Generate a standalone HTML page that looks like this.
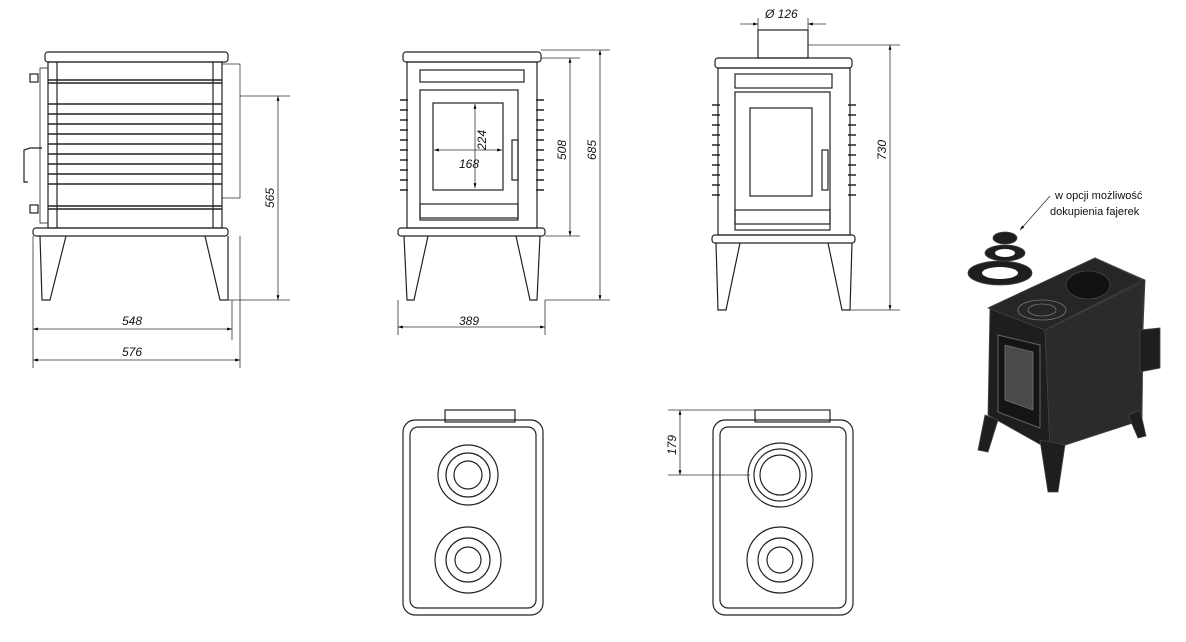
<!DOCTYPE html>
<html><head><meta charset="utf-8"><style>
html,body{margin:0;padding:0;background:#fff;}
svg{display:block;font-family:"Liberation Sans",sans-serif;}
</style></head><body>
<svg width="1186" height="642" viewBox="0 0 1186 642" xmlns="http://www.w3.org/2000/svg">
<defs><marker id="a" viewBox="0 0 10 10" refX="10" refY="5" markerWidth="8" markerHeight="6" orient="auto-start-reverse"><path d="M0,2 L10,5 L0,8z" fill="#000"/></marker></defs>
<g fill="none" stroke="#222" stroke-width="1.2">
<rect x="45" y="52" width="183" height="10" rx="3"/>
<rect x="48" y="62" width="174" height="166"/>
<line x1="57" y1="62" x2="57" y2="228"/><line x1="213" y1="62" x2="213" y2="228"/>
<rect x="222" y="64" width="18" height="134" stroke-width="0.7"/>
<g stroke-width="1.6">
<line x1="48" y1="80" x2="222" y2="80"/><line x1="48" y1="83" x2="222" y2="83"/>
<line x1="48" y1="104" x2="222" y2="104"/><line x1="48" y1="114" x2="222" y2="114"/>
<line x1="48" y1="124" x2="222" y2="124"/><line x1="48" y1="134" x2="222" y2="134"/>
<line x1="48" y1="144" x2="222" y2="144"/><line x1="48" y1="154" x2="222" y2="154"/>
<line x1="48" y1="164" x2="222" y2="164"/><line x1="48" y1="174" x2="222" y2="174"/>
<line x1="48" y1="184" x2="222" y2="184"/><line x1="48" y1="206" x2="222" y2="206"/><line x1="48" y1="209" x2="222" y2="209"/>
</g>
<rect x="40" y="68" width="8" height="155" stroke-width="0.8"/>
<rect x="30" y="74" width="8" height="8"/><rect x="30" y="205" width="8" height="8"/>
<path d="M42,148 L30,148 L24,150 L24,182 L28,182"/>
<rect x="33" y="228" width="195" height="8" rx="3"/>
<path d="M40,236 L42,300 L50,300 L66,236"/><path d="M205,236 L220,300 L228,300 L228,236"/>
<rect x="403" y="52" width="138" height="10" rx="3"/>
<rect x="407" y="62" width="130" height="166"/>
<rect x="420" y="70" width="104" height="12"/>
<rect x="420" y="90" width="98" height="130"/>
<rect x="433" y="103" width="70" height="87"/>
<rect x="420" y="204" width="98" height="14"/>
<g stroke-width="1.5">
<path d="M400,100h8M400,110h8M400,120h8M400,130h8M400,140h8M400,150h8M400,160h8M400,170h8M400,180h8M400,190h8"/>
<path d="M536,100h8M536,110h8M536,120h8M536,130h8M536,140h8M536,150h8M536,160h8M536,170h8M536,180h8M536,190h8"/>
</g>
<rect x="512" y="140" width="6" height="40"/>
<rect x="398" y="228" width="147" height="8" rx="3"/>
<path d="M404,236 L407,300 L414,300 L428,236"/><path d="M516,236 L530,300 L537,300 L540,236"/>
<rect x="758" y="30" width="50" height="28"/>
<rect x="715" y="58" width="137" height="10" rx="3"/>
<rect x="718" y="68" width="132" height="167"/>
<rect x="735" y="74" width="97" height="14"/>
<rect x="735" y="92" width="95" height="138"/>
<rect x="750" y="108" width="62" height="88"/>
<rect x="735" y="210" width="95" height="14"/>
<g stroke-width="1.5">
<path d="M712,105h8M712,115h8M712,125h8M712,135h8M712,145h8M712,155h8M712,165h8M712,175h8M712,185h8M712,195h8"/>
<path d="M848,105h8M848,115h8M848,125h8M848,135h8M848,145h8M848,155h8M848,165h8M848,175h8M848,185h8M848,195h8"/>
</g>
<rect x="822" y="150" width="6" height="40"/>
<rect x="712" y="235" width="143" height="8" rx="3"/>
<path d="M716,243 L718,310 L726,310 L740,243"/><path d="M828,243 L842,310 L850,310 L852,243"/>
<rect x="403" y="420" width="140" height="195" rx="12"/>
<rect x="410" y="427" width="126" height="181" rx="8"/>
<rect x="445" y="410" width="70" height="12"/>
<circle cx="468" cy="475" r="30"/><circle cx="468" cy="475" r="22"/><circle cx="468" cy="475" r="14"/>
<circle cx="468" cy="560" r="33"/><circle cx="468" cy="560" r="22"/><circle cx="468" cy="560" r="13"/>
<rect x="713" y="420" width="140" height="195" rx="12"/>
<rect x="720" y="427" width="126" height="181" rx="8"/>
<rect x="755" y="410" width="75" height="12"/>
<circle cx="780" cy="475" r="32"/><circle cx="780" cy="475" r="26"/><circle cx="780" cy="475" r="20"/>
<circle cx="780" cy="560" r="33"/><circle cx="780" cy="560" r="22"/><circle cx="780" cy="560" r="13"/>
</g>
<g stroke="#333" stroke-width="0.8" fill="none">
<path d="M240,96H290M228,300H290"/>
<line x1="278" y1="96" x2="278" y2="300" marker-start="url(#a)" marker-end="url(#a)"/>
<path d="M33,236V368M232,300V340M240,236V368"/>
<line x1="33" y1="329" x2="232" y2="329" marker-start="url(#a)" marker-end="url(#a)"/>
<line x1="33" y1="360" x2="240" y2="360" marker-start="url(#a)" marker-end="url(#a)"/>
<path d="M541,58H580M545,236H580M541,50H610M545,300H610"/>
<line x1="570" y1="58" x2="570" y2="236" marker-start="url(#a)" marker-end="url(#a)"/>
<line x1="600" y1="50" x2="600" y2="300" marker-start="url(#a)" marker-end="url(#a)"/>
<path d="M398,300V335M545,300V335"/>
<line x1="398" y1="327" x2="545" y2="327" marker-start="url(#a)" marker-end="url(#a)"/>
<path d="M758,18V40M808,18V40"/>
<line x1="740" y1="24" x2="758" y2="24" marker-end="url(#a)"/><line x1="826" y1="24" x2="808" y2="24" marker-end="url(#a)"/>
<path d="M808,45H900M850,310H900"/>
<line x1="890" y1="45" x2="890" y2="310" marker-start="url(#a)" marker-end="url(#a)"/>
<path d="M668,410H830M668,475H750"/>
<line x1="680" y1="410" x2="680" y2="475" marker-start="url(#a)" marker-end="url(#a)"/>
<line x1="475" y1="104" x2="475" y2="188" marker-start="url(#a)" marker-end="url(#a)"/>
<line x1="434" y1="150" x2="502" y2="150" marker-start="url(#a)" marker-end="url(#a)"/>
<line x1="1050" y1="196" x2="1020" y2="230" marker-end="url(#a)"/>
</g>
<g font-size="12" font-style="italic" fill="#111">
<text x="122" y="325">548</text><text x="122" y="356">576</text>
<text x="459" y="325">389</text><text x="459" y="168">168</text>
<text x="765" y="18">Ø 126</text>
<text transform="translate(274,208) rotate(-90)">565</text>
<text transform="translate(566,160) rotate(-90)">508</text>
<text transform="translate(596,160) rotate(-90)">685</text>
<text transform="translate(886,160) rotate(-90)">730</text>
<text transform="translate(676,455) rotate(-90)">179</text>
<text transform="translate(486,150) rotate(-90)">224</text>
</g>
<g font-size="11" fill="#111"><text x="1055" y="199">w opcji możliwość</text><text x="1050" y="215">dokupienia fajerek</text></g>
<g fill="#1e1e1e" stroke="#444" stroke-width="0.8">
<ellipse cx="1005" cy="238" rx="12" ry="6"/><ellipse cx="1005" cy="253" rx="20" ry="8"/><ellipse cx="1000" cy="273" rx="32" ry="12"/>
<path d="M990,307 L1095,258 L1145,280 L1143,330 L1142,420 L1050,450 L988,415 Z"/>
<path d="M1045,330 L1143,282 L1142,420 L1050,450 Z" fill="#2b2b2b"/>
<path d="M988,308 L1095,258 L1143,280 L1045,330 Z" fill="#262626"/>
<path d="M1140,330 L1160,328 L1160,368 L1140,372 Z"/>
<path d="M985,415 L978,450 L988,452 L998,420 Z"/>
<path d="M1040,440 L1048,492 L1058,492 L1065,445 Z"/>
<path d="M1128,415 L1138,438 L1146,436 L1140,410 Z"/>
<ellipse cx="1088" cy="285" rx="22" ry="14" fill="#111"/>
</g>
<ellipse cx="1000" cy="273" rx="18" ry="6" fill="#fff"/>
<ellipse cx="1005" cy="253" rx="10" ry="4" fill="#fff"/>
<g fill="none" stroke="#777" stroke-width="0.8"><ellipse cx="1042" cy="310" rx="24" ry="10"/><ellipse cx="1042" cy="310" rx="14" ry="6"/></g>
<path d="M998,335 L1040,345 L1040,428 L998,412 Z" fill="#151515" stroke="#666"/>
<path d="M1005,345 L1033,352 L1033,410 L1005,400 Z" fill="#4a4a4a" stroke="#888" stroke-width="0.6"/>
</svg>
</body></html>
